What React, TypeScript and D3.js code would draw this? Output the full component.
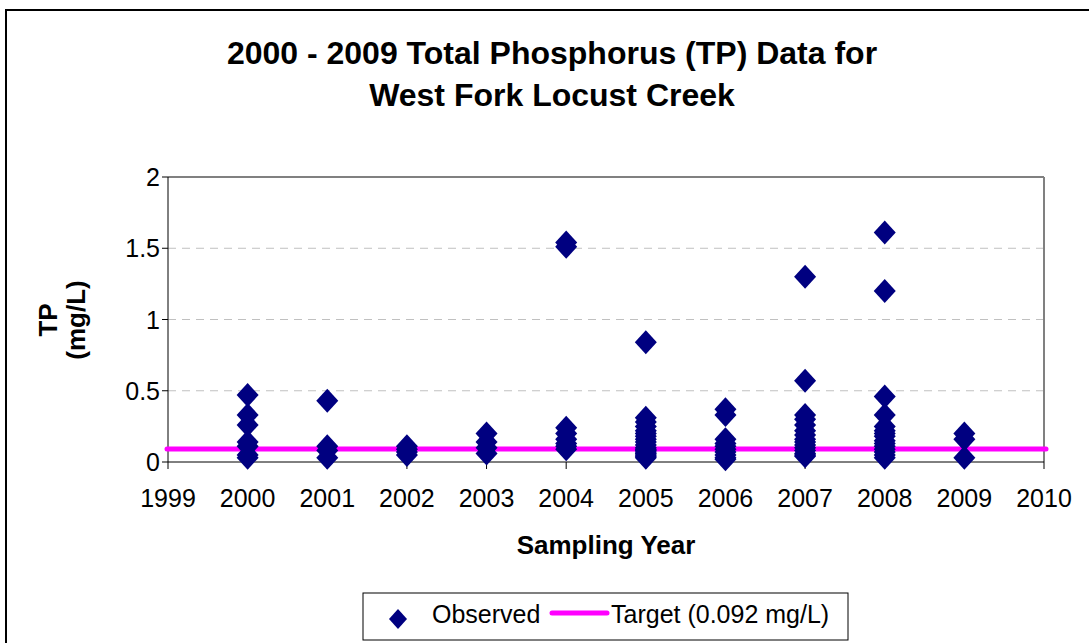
import React from 'react';
import * as d3 from 'd3';

// observed TP (mg/L) per sampling year
const years = [2000, 2001, 2002, 2003, 2004, 2005, 2006, 2007, 2008, 2009];
const tp2000 = [0.47, 0.33, 0.26, 0.14, 0.11, 0.05, 0.03];
const tp2001 = [0.43, 0.11, 0.08, 0.03];
const tp2002 = [0.11, 0.09, 0.07, 0.05];
const tp2003 = [0.2, 0.14, 0.1, 0.06];
const tp2004 = [1.54, 1.51, 0.24, 0.2, 0.16, 0.13, 0.11, 0.09];
const tp2005 = [0.84, 0.31, 0.28, 0.25, 0.22, 0.2, 0.18, 0.16, 0.14, 0.12, 0.1, 0.09, 0.08, 0.07, 0.06, 0.05, 0.04, 0.03];
const tp2006 = [0.37, 0.33, 0.16, 0.13, 0.11, 0.09, 0.07, 0.05, 0.03, 0.02];
const tp2007 = [1.3, 0.57, 0.33, 0.3, 0.26, 0.22, 0.19, 0.16, 0.14, 0.12, 0.1, 0.08, 0.06, 0.05, 0.04];
const tp2008 = [1.61, 1.2, 0.46, 0.33, 0.25, 0.22, 0.2, 0.18, 0.15, 0.13, 0.11, 0.09, 0.07, 0.05, 0.03];
const tp2009 = [0.2, 0.16, 0.03];
const observed = [tp2000, tp2001, tp2002, tp2003, tp2004, tp2005, tp2006, tp2007, tp2008, tp2009];

const target = 0.092;
const xTicks = d3.range(1999, 2011);
const yTicks = [0, 0.5, 1, 1.5, 2];

const W = 1089;
const H = 643;
const left = 168, right = 1044, top = 177, bottom = 462;
const font = 'Liberation Sans, Arial, sans-serif';
const navy = '#000080';

const diamond = (w: number, h: number) => `M0,${-h}L${w},0L0,${h}L${-w},0Z`;

export default function App() {
  const x = d3.scaleLinear().domain([1999, 2010]).range([left, right]);
  const y = d3.scaleLinear().domain([0, 2]).range([bottom, top]);

  const points = years.flatMap((yr, i) => observed[i].map(v => ({ yr, v })));

  return (
    <svg width={W} height={H} style={{ position: 'absolute', left: 0, top: 0, fontFamily: font }}>
      <rect x={0} y={0} width={W} height={H} fill="#fff" />
      <rect x={6} y={10} width={W + 10} height={H + 10} fill="none" stroke="#000" strokeWidth={2} />

      <text x={552} y={64} textAnchor="middle" fontSize={32} fontWeight="bold">2000 - 2009 Total Phosphorus (TP) Data for</text>
      <text x={552} y={106} textAnchor="middle" fontSize={32} fontWeight="bold">West Fork Locust Creek</text>

      {/* gridlines */}
      {yTicks.filter(t => t > 0 && t < 2).map(t => (
        <line key={t} x1={left} x2={right} y1={y(t)} y2={y(t)} stroke="#c0c0c0" strokeDasharray="8,6" />
      ))}
      {/* plot frame */}
      <line x1={left} x2={right} y1={top} y2={top} stroke="#808080" strokeWidth={2} />
      <line x1={right} x2={right} y1={top} y2={bottom} stroke="#808080" strokeWidth={2} />

      {/* axes */}
      <line x1={left} x2={left} y1={top} y2={bottom} stroke="#000" />
      <line x1={left} x2={right} y1={bottom} y2={bottom} stroke="#000" />
      {yTicks.map(t => (
        <g key={t}>
          <line x1={left - 6} x2={left} y1={y(t)} y2={y(t)} stroke="#000" />
          <text x={left - 8} y={y(t) + 9} textAnchor="end" fontSize={25}>{t}</text>
        </g>
      ))}
      {xTicks.map(t => (
        <g key={t}>
          <line x1={x(t)} x2={x(t)} y1={bottom} y2={bottom + 7} stroke="#000" />
          <text x={x(t)} y={bottom + 45} textAnchor="middle" fontSize={25}>{t}</text>
        </g>
      ))}

      <text x={606} y={554} textAnchor="middle" fontSize={26} fontWeight="bold">Sampling Year</text>
      <g transform="translate(57,320) rotate(-90)">
        <text x={0} y={0} textAnchor="middle" fontSize={26} fontWeight="bold">TP</text>
        <text x={0} y={28} textAnchor="middle" fontSize={26} fontWeight="bold">(mg/L)</text>
      </g>

      {/* target line */}
      <line x1={left - 1} x2={right + 2} y1={y(target)} y2={y(target)} stroke="#ff00ff" strokeWidth={5} strokeLinecap="round" />

      {points.map((p, i) => (
        <path key={i} d={diamond(11, 12)} transform={`translate(${x(p.yr)},${y(p.v)})`} fill={navy} />
      ))}

      {/* legend */}
      <rect x={363} y={593} width={485} height={47} fill="#fff" stroke="#000" />
      <path d={diamond(9, 10)} transform="translate(398,619)" fill={navy} />
      <text x={432} y={623} fontSize={25}>Observed</text>
      <line x1={552} x2={607} y1={613} y2={613} stroke="#ff00ff" strokeWidth={5} strokeLinecap="round" />
      <text x={611} y={623} fontSize={25}>Target (0.092 mg/L)</text>
    </svg>
  );
}
